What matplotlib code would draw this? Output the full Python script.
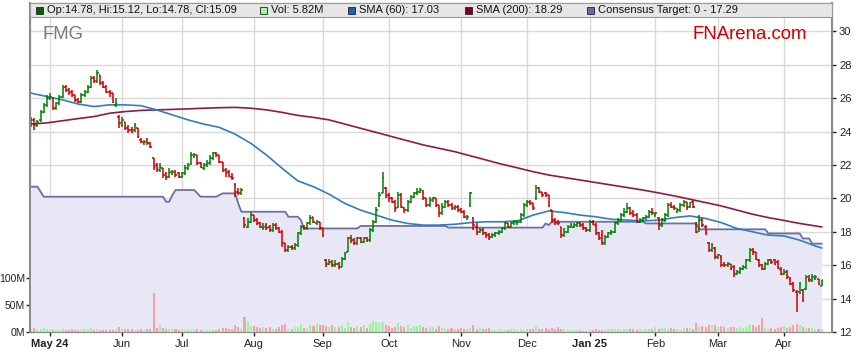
import numpy as np
import pandas as pd
import matplotlib
matplotlib.use('Agg')
import matplotlib.pyplot as plt
from matplotlib.patches import Rectangle

plt.rcParams['font.family'] = ['Liberation Sans', 'DejaVu Sans']

# ASX trading days shown on the chart
holidays = ['2024-04-25', '2024-06-10', '2024-12-25', '2024-12-26', '2025-01-01', '2025-01-27']
dates = pd.bdate_range('2024-04-22', '2025-04-17')
dates = dates[~dates.isin(pd.to_datetime(holidays))]

opens = [
  24.5, 24.7, 24.4, 24.7, 25.2, 25.6, 26.0, 26.0, 25.4, 25.7,
  26.1, 26.7, 26.5, 26.4, 26.2, 25.9, 25.8, 26.2, 26.4, 26.7,
  27.2, 27.0, 27.4, 26.9, 26.7, 26.4, 26.3, 25.6, 24.9, 24.4,
  24.6, 24.2, 24.1, 24.1, 24.2, 23.5, 23.3, 23.5, 23.3, 22.4,
  22.0, 21.7, 21.8, 21.5, 21.3, 21.5, 21.6, 21.5, 21.3, 21.5,
  21.8, 22.1, 22.5, 22.6, 22.1, 21.8, 22.0, 22.1, 22.4, 22.7,
  22.6, 22.2, 21.7, 21.6, 21.3, 20.8, 20.4, 20.3, 18.8, 18.3,
  18.6, 19.0, 18.7, 18.5, 18.2, 18.4, 18.3, 18.1, 18.4, 18.2,
  18.0, 17.3, 16.9, 17.1, 17.0, 17.2, 17.9, 18.3, 18.2, 18.5,
  18.9, 18.5, 18.6, 18.2, 16.3, 16.1, 16.2, 16.0, 16.1, 15.9,
  16.4, 16.8, 17.6, 17.5, 17.3, 17.6, 17.4, 17.6, 17.5, 18.1,
  18.6, 19.6, 20.3, 20.6, 20.2, 20.0, 19.8, 19.5, 20.2, 19.4,
  19.3, 19.8, 20.1, 20.3, 20.4, 20.4, 20.0, 19.6, 19.9, 20.0,
  19.6, 19.1, 19.5, 19.8, 19.6, 19.4, 19.5, 19.3, 19.2, 18.8,
  19.6, 18.8, 18.3, 18.0, 18.1, 17.9, 17.8, 17.7, 17.8, 17.9,
  18.0, 18.2, 18.5, 18.3, 18.5, 18.5, 18.6, 19.0, 19.6, 19.8,
  19.7, 20.0, 20.6, 20.4, 20.3, 20.2, 19.3, 18.7, 18.6, 18.3,
  17.8, 18.0, 18.3, 18.3, 18.4, 18.5, 18.4, 18.2, 18.1, 18.6,
  18.4, 17.9, 17.8, 17.3, 17.7, 17.9, 18.0, 18.5, 18.7, 19.0,
  19.2, 19.4, 19.1, 19.0, 18.6, 18.7, 18.8, 18.9, 19.2, 19.0,
  18.8, 18.4, 18.7, 19.0, 19.6, 19.5, 19.2, 19.3, 19.6, 19.8,
  19.5, 19.8, 18.4, 18.1, 18.7, 18.3, 17.3, 16.9, 17.0, 16.5,
  16.5, 16.1, 16.0, 16.1, 15.9, 15.5, 15.6, 15.8, 15.9, 16.3,
  16.9, 16.8, 16.3, 16.0, 15.8, 16.1, 16.3, 16.3, 16.2, 15.8,
  15.5, 15.6, 15.2, 14.9, 14.4, 14.4, 14.5, 14.6, 15.2, 15.1,
  15.2, 15.2, 14.78]

highs = [
  24.9, 24.8, 24.7, 25.3, 25.7, 26.2, 26.3, 26.0, 25.8, 26.2,
  26.8, 26.8, 26.6, 26.5, 26.2, 26.0, 26.3, 26.5, 26.8, 27.3,
  27.3, 27.7, 27.4, 27.0, 26.8, 26.5, 26.3, 26.0, 25.0, 24.9,
  24.6, 24.4, 24.3, 24.5, 24.2, 23.6, 23.5, 23.6, 23.4, 22.4,
  22.1, 22.1, 21.8, 21.6, 21.8, 21.7, 21.7, 21.6, 21.6, 22.0,
  22.1, 22.8, 22.7, 22.6, 22.2, 22.1, 22.3, 22.6, 22.8, 22.8,
  22.6, 22.2, 21.8, 21.7, 21.5, 20.9, 20.6, 20.6, 18.9, 18.8,
  19.2, 19.0, 18.8, 18.6, 18.5, 18.5, 18.4, 18.5, 18.5, 18.3,
  18.1, 17.3, 17.2, 17.2, 17.3, 18.0, 18.4, 18.4, 18.6, 19.0,
  18.9, 18.7, 18.6, 18.2, 16.4, 16.4, 16.3, 16.3, 16.2, 16.5,
  16.8, 17.7, 17.8, 17.6, 17.7, 17.7, 17.7, 17.7, 18.2, 18.7,
  19.5, 20.4, 21.6, 20.7, 20.3, 20.1, 19.9, 20.4, 20.3, 19.5,
  19.9, 20.2, 20.4, 20.6, 20.6, 20.5, 20.0, 20.1, 20.1, 20.0,
  19.6, 19.7, 19.9, 19.9, 19.7, 19.6, 19.6, 19.4, 19.3, 19.0,
  20.4, 18.9, 18.5, 18.2, 18.2, 18.0, 17.9, 17.9, 18.0, 18.1,
  18.3, 18.6, 18.5, 18.6, 18.7, 18.7, 19.1, 19.7, 19.9, 19.9,
  19.7, 20.8, 20.7, 20.4, 20.4, 20.2, 19.3, 18.8, 18.7, 18.3,
  18.2, 18.4, 18.5, 18.5, 18.6, 18.6, 18.5, 18.3, 18.7, 18.7,
  18.5, 18.0, 18.1, 17.8, 18.0, 18.1, 18.6, 18.8, 19.1, 19.4,
  19.7, 19.5, 19.3, 19.1, 18.8, 18.9, 19.0, 19.3, 19.4, 19.2,
  18.9, 18.8, 19.1, 19.7, 19.8, 19.6, 19.4, 19.7, 19.9, 19.8,
  19.8, 19.9, 18.6, 19.0, 18.8, 18.4, 17.4, 17.3, 17.1, 16.7,
  16.6, 16.2, 16.2, 16.1, 16.0, 15.7, 15.9, 16.0, 16.4, 17.0,
  17.0, 16.8, 16.4, 16.1, 16.2, 16.4, 16.4, 16.4, 16.3, 15.9,
  15.8, 15.7, 15.3, 15.0, 14.5, 15.0, 14.6, 15.4, 15.4, 15.5,
  15.4, 15.2, 15.12]

lows = [
  24.3, 24.1, 24.3, 24.6, 25.1, 25.5, 25.9, 25.3, 25.3, 25.6,
  26.0, 26.4, 26.2, 26.1, 25.8, 25.7, 25.7, 26.1, 26.3, 26.6,
  26.9, 26.9, 26.8, 26.6, 26.3, 26.1, 25.7, 25.5, 24.2, 24.3,
  24.1, 23.9, 23.9, 24.0, 23.6, 23.3, 23.2, 23.2, 23.0, 21.7,
  21.6, 21.6, 21.2, 21.1, 21.2, 21.4, 21.3, 21.2, 21.2, 21.4,
  21.7, 22.0, 22.4, 22.0, 21.8, 21.7, 21.9, 22.0, 22.3, 22.5,
  22.1, 21.6, 21.3, 21.3, 21.1, 20.1, 20.2, 20.2, 18.2, 18.2,
  18.5, 18.6, 18.4, 18.2, 18.1, 18.1, 18.0, 18.0, 18.1, 17.9,
  17.1, 16.8, 16.8, 16.9, 16.9, 17.1, 17.8, 18.1, 18.1, 18.4,
  18.5, 18.4, 18.1, 17.7, 15.9, 16.0, 15.9, 15.9, 15.8, 15.9,
  16.3, 16.8, 17.3, 17.2, 17.2, 17.3, 17.3, 17.4, 17.4, 18.0,
  18.5, 19.5, 20.3, 20.0, 19.8, 19.7, 19.2, 19.4, 19.4, 19.1,
  19.2, 19.7, 20.0, 20.2, 20.3, 19.9, 19.5, 19.5, 19.8, 19.5,
  18.9, 19.0, 19.4, 19.5, 19.3, 19.3, 19.2, 19.1, 18.8, 18.7,
  19.5, 18.1, 17.8, 17.9, 17.8, 17.6, 17.5, 17.6, 17.7, 17.8,
  17.9, 18.1, 18.2, 18.2, 18.4, 18.4, 18.5, 18.9, 19.5, 19.6,
  19.3, 19.9, 20.3, 20.1, 20.1, 19.5, 18.5, 18.4, 18.4, 17.6,
  17.7, 17.9, 18.2, 18.2, 18.3, 18.3, 18.1, 18.0, 18.0, 18.4,
  17.8, 17.5, 17.2, 17.2, 17.6, 17.8, 17.9, 18.4, 18.6, 18.9,
  19.1, 19.0, 18.9, 18.5, 18.5, 18.6, 18.7, 18.8, 19.0, 18.9,
  18.1, 18.3, 18.6, 18.9, 19.4, 19.3, 19.1, 19.2, 19.5, 19.3,
  19.4, 19.4, 17.9, 18.0, 18.3, 17.8, 16.8, 16.8, 16.4, 16.4,
  15.9, 15.9, 15.9, 15.7, 15.3, 15.4, 15.5, 15.7, 15.8, 16.2,
  16.6, 16.3, 15.9, 15.7, 15.7, 16.0, 16.1, 16.0, 15.8, 15.4,
  15.4, 15.2, 14.8, 14.4, 13.2, 14.3, 13.8, 14.5, 15.0, 15.0,
  15.1, 14.8, 14.78]

closes = [
  24.7, 24.4, 24.6, 25.2, 25.6, 26.0, 26.1, 25.4, 25.7, 26.1,
  26.6, 26.5, 26.3, 26.2, 25.9, 25.8, 26.2, 26.4, 26.6, 27.2,
  27.0, 27.5, 26.9, 26.7, 26.4, 26.3, 25.8, 25.7, 24.5, 24.7,
  24.2, 24.1, 24.0, 24.4, 23.7, 23.4, 23.4, 23.3, 23.1, 21.9,
  21.8, 21.9, 21.4, 21.3, 21.6, 21.6, 21.4, 21.3, 21.5, 21.8,
  22.0, 22.6, 22.6, 22.1, 21.9, 22.0, 22.1, 22.4, 22.7, 22.6,
  22.2, 21.7, 21.5, 21.4, 21.2, 20.4, 20.3, 20.5, 18.4, 18.6,
  19.0, 18.7, 18.5, 18.3, 18.3, 18.2, 18.1, 18.4, 18.2, 18.0,
  17.3, 16.9, 17.1, 17.0, 17.2, 17.9, 18.3, 18.2, 18.5, 18.8,
  18.6, 18.6, 18.2, 17.8, 16.1, 16.2, 16.0, 16.1, 15.9, 16.4,
  16.7, 17.6, 17.5, 17.3, 17.6, 17.4, 17.6, 17.5, 18.1, 18.6,
  19.3, 20.2, 21.2, 20.1, 20.0, 19.8, 19.4, 20.2, 19.5, 19.3,
  19.8, 20.1, 20.3, 20.4, 20.5, 20.0, 19.6, 19.9, 20.0, 19.6,
  19.1, 19.5, 19.8, 19.6, 19.4, 19.5, 19.3, 19.2, 18.9, 18.9,
  20.3, 18.4, 18.0, 18.1, 17.9, 17.8, 17.7, 17.8, 17.9, 18.0,
  18.2, 18.5, 18.3, 18.5, 18.6, 18.6, 19.0, 19.6, 19.8, 19.7,
  19.4, 20.6, 20.4, 20.2, 20.2, 19.6, 18.7, 18.5, 18.5, 17.8,
  18.0, 18.3, 18.4, 18.4, 18.5, 18.4, 18.2, 18.1, 18.6, 18.5,
  17.9, 17.6, 17.3, 17.7, 17.9, 18.0, 18.5, 18.7, 19.0, 19.2,
  19.4, 19.1, 19.0, 18.6, 18.7, 18.8, 18.9, 19.2, 19.1, 19.1,
  18.4, 18.7, 19.0, 19.6, 19.5, 19.4, 19.3, 19.6, 19.8, 19.5,
  19.7, 19.5, 18.0, 18.7, 18.4, 17.9, 16.9, 17.2, 16.5, 16.6,
  16.0, 16.0, 16.1, 15.8, 15.5, 15.6, 15.8, 15.9, 16.3, 16.9,
  16.8, 16.4, 16.0, 15.8, 16.1, 16.3, 16.2, 16.1, 15.9, 15.5,
  15.6, 15.3, 14.9, 14.5, 14.2, 14.9, 13.9, 15.3, 15.1, 15.3,
  15.3, 14.9, 15.09]

# volume in millions of shares
volume = [
  5, 7, 4, 6, 7, 5, 5, 3, 4, 4,
  5, 4, 4, 5, 4, 3, 4, 5, 6, 7,
  4, 5, 4, 4, 4, 3, 3, 6, 9, 6,
  5, 5, 5, 4, 4, 5, 3, 5, 5, 72,
  8, 12, 7, 5, 6, 5, 5, 4, 5, 4,
  5, 4, 4, 5, 4, 4, 3, 4, 4, 4,
  6, 7, 8, 6, 6, 12, 9, 5, 27, 19,
  11, 11, 10, 8, 10, 7, 9, 6, 6, 10,
  13, 15, 6, 5, 10, 9, 14, 8, 7, 12,
  11, 14, 12, 13, 11, 10, 13, 9, 10, 12,
  8, 19, 9, 8, 11, 10, 12, 7, 14, 21,
  19, 17, 18, 13, 11, 7, 9, 16, 11, 9,
  12, 8, 11, 11, 13, 10, 8, 9, 9, 6,
  11, 7, 8, 6, 7, 5, 6, 7, 6, 6,
  8, 13, 6, 8, 5, 6, 7, 4, 4, 5,
  4, 3, 4, 5, 6, 4, 5, 4, 5, 6,
  5, 11, 6, 5, 7, 6, 8, 6, 9, 5,
  6, 4, 4, 3, 4, 3, 2, 2, 3, 3,
  5, 4, 3, 4, 5, 6, 5, 5, 4, 5,
  6, 5, 5, 4, 6, 4, 5, 5, 6, 10,
  6, 7, 8, 6, 7, 6, 5, 4, 7, 8,
  7, 5, 17, 10, 11, 9, 13, 12, 13, 10,
  11, 9, 8, 9, 9, 7, 10, 8, 9, 12,
  13, 9, 12, 25, 7, 5, 8, 6, 7, 9,
  11, 8, 10, 12, 15, 12, 10, 8, 7, 8,
  5, 6, 5.82]

# consensus target price (step-like)
target = ([20.7] * 3 + [20.4] + [20.1] * 39 + [19.8] * 2 + [20.2] + [20.5] * 7
          + [20.3] + [20.1] * 6 + [20.2] + [20.3] * 5 + [19.7] + [19.2] * 15
          + [18.9] * 4 + [18.7] + [18.2] * 18 + [18.35] * 28 + [18.25] * 31
          + [18.5] + [18.4] + [18.6] * 30 + [18.5] * 17 + [18.15] * 22
          + [17.9] * 11 + [17.6] * 3 + [17.29] * 4)

# moving averages read every 5 trading days (+ last day)
sma_idx = list(range(0, 251, 5)) + [252]
sma60 = [
  26.3, 26.1, 25.9, 25.65, 25.5, 25.6, 25.6, 25.55, 25.3, 25.0,
  24.7, 24.45, 24.25, 23.85, 23.3, 22.6, 21.8, 21.05, 20.7, 20.25,
  19.7, 19.3, 19.0, 18.7, 18.5, 18.4, 18.4, 18.45, 18.55, 18.6,
  18.6, 18.65, 19.0, 19.25, 19.15, 19.0, 18.9, 18.75, 18.7, 18.65,
  18.7, 18.85, 18.95, 18.8, 18.55, 18.2, 18.0, 17.8, 17.75, 17.5,
  17.15, 17.03]
sma200 = [
  24.45, 24.52, 24.65, 24.78, 24.9, 25.1, 25.2, 25.27, 25.3, 25.33,
  25.36, 25.4, 25.43, 25.45, 25.4, 25.3, 25.15, 24.97, 24.85, 24.7,
  24.45, 24.2, 23.95, 23.7, 23.45, 23.2, 23.0, 22.8, 22.55, 22.3,
  22.05, 21.83, 21.6, 21.4, 21.25, 21.1, 20.95, 20.8, 20.65, 20.5,
  20.33, 20.15, 19.95, 19.75, 19.55, 19.3, 19.05, 18.85, 18.68, 18.5,
  18.35, 18.29]

fig = plt.figure(figsize=(8.59, 3.63), dpi=100)
ax = fig.add_axes([30/859, 31/363, 802/859, 329/363])
axv = ax.twinx()

x = np.arange(len(dates))
o, h, l, c = map(np.array, (opens, highs, lows, closes))
up = c >= o

# grid + consensus area
ax.set_axisbelow(True)
ax.fill_between(x, 12, target, color='#e7e7f6', lw=0, zorder=1)
ax.plot(x, target, color='#6f6f9f', lw=1.3, zorder=2)

ax.plot(sma_idx, sma200, color='#8c1c40', lw=1.2, zorder=3)
ax.plot(sma_idx, sma60, color='#2f7fbf', lw=1.2, zorder=3)

col = np.where(up, '#008000', '#cc0000')
ax.vlines(x, l, h, colors=col, lw=1.1, zorder=4)
ax.hlines(o, x - 0.5, x, colors=col, lw=1.1, zorder=4)
ax.hlines(c, x, x + 0.5, colors=col, lw=1.1, zorder=4)

vcol = np.where(up, '#9cf59c', '#f9a0a0')
axv.bar(x, volume, width=0.65, color=vcol, lw=0, zorder=2)

ax.set_xlim(-0.38, 255.3)
ax.set_ylim(12, 31.7)
axv.set_ylim(0, 606)

ax.yaxis.tick_right()
ax.set_yticks(range(12, 31, 2))
axv.yaxis.tick_left()
axv.set_yticks([0, 50, 100])
axv.set_yticklabels(['0M', '50M', '100M'])

s = pd.Series(x, index=dates)
firsts = s.groupby([dates.year, dates.month]).first()
tick_pos = list(firsts.values)[1:]
tick_lab = []
for (yr, mo) in list(firsts.index)[1:]:
  name = pd.Timestamp(yr, mo, 1).strftime('%b')
  if mo == 1 or len(tick_lab) == 0:
    name += ' ' + str(yr)[2:]
  tick_lab.append(name)
ax.set_xticks(tick_pos)
ax.set_xticklabels(tick_lab)
for t in ax.get_xticklabels():
  if ' ' in t.get_text():
    t.set_fontweight('bold')

ax.grid(True, color='#d9d9d9', lw=1)
for a in (ax, axv):
  a.tick_params(labelsize=8, colors='#222222', length=3, width=1)
  for sp in a.spines.values():
    sp.set_color('#8a8a8a')
ax.tick_params(axis='x', length=3, pad=2)
ax.tick_params(axis='y', pad=2)
axv.tick_params(axis='y', pad=0.5, labelsize=7.5)
axv.spines['left'].set_linewidth(1.5)
ax.spines['right'].set_linewidth(1.5)

# header strip with legend entries
hh = 14/329
axv.add_patch(Rectangle((0, 1 - hh), 1, hh, transform=axv.transAxes,
                        facecolor='#e6e6e6', edgecolor='#9a9a9a', lw=0.8, zorder=10, clip_on=False))
items = [
  ('#006400', 'Op:%.2f, Hi:%.2f, Lo:%.2f, Cl:%.2f' % (opens[-1], highs[-1], lows[-1], closes[-1]), 36),
  ('#98fb98', 'Vol: %.2fM' % volume[-1], 260),
  ('#1a64a8', 'SMA (60): %.2f' % sma60[-1], 348),
  ('#800020', 'SMA (200): %.2f' % sma200[-1], 465),
  ('#6b6b9b', 'Consensus Target: 0 - %.2f' % target[-1], 587),
]
for color, label, px in items:
  axv.add_patch(Rectangle(((px - 30)/802, 1 - 11/329), 7/802, 7/329, transform=axv.transAxes,
                          facecolor=color, edgecolor='#222222', lw=0.6, zorder=11, clip_on=False))
  axv.text((px + 11 - 30)/802, 1 - 7/329, label, transform=axv.transAxes, fontsize=8,
           va='center', ha='left', color='#111111', zorder=12)

axv.text(12/802, (332 - 39)/329, 'FMG', transform=axv.transAxes, fontsize=13.3,
         color='#7a7a7a', va='baseline', ha='left', zorder=12)
axv.text((693 - 30)/802, (332 - 39)/329, 'FNArena.com', transform=axv.transAxes, fontsize=13.4,
         color='#cc0000', va='baseline', ha='left', zorder=12)

plt.savefig('out.png', dpi=100)
